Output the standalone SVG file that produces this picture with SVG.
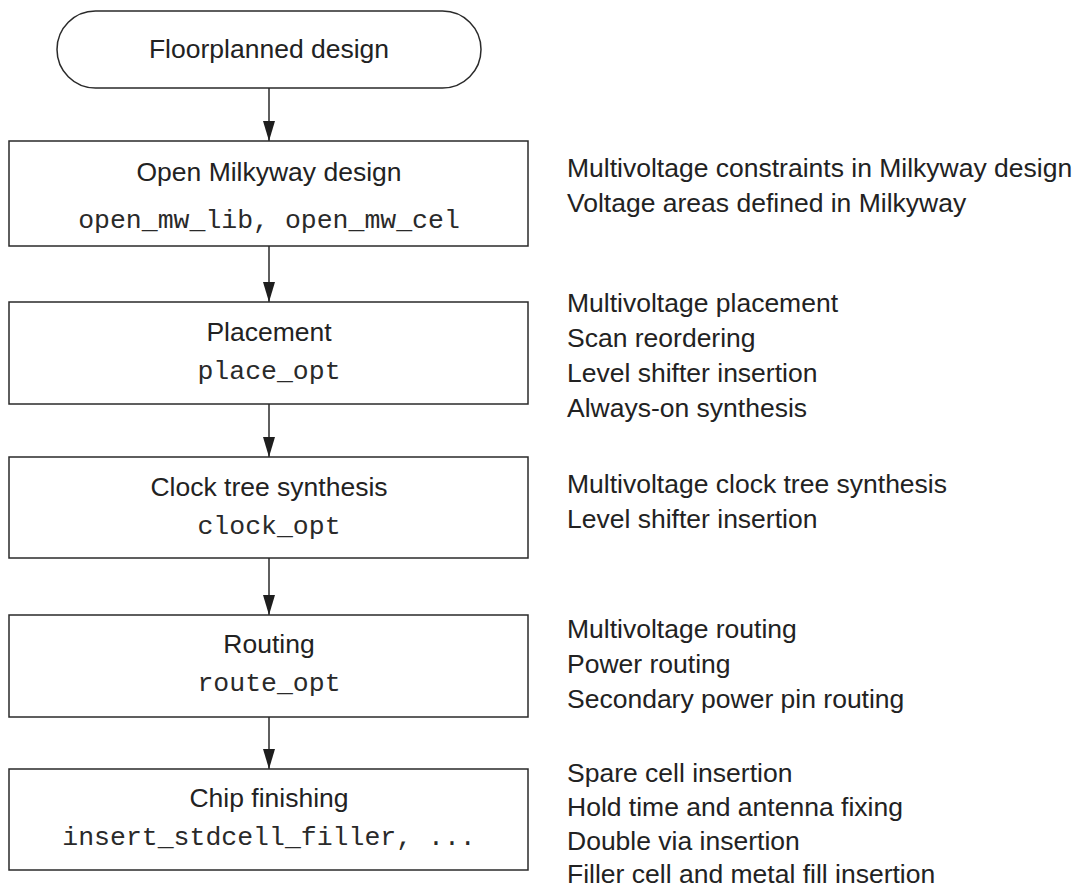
<svg xmlns="http://www.w3.org/2000/svg" width="1079" height="888" viewBox="0 0 1079 888">
<style>
.shape{fill:#fff;stroke:#2a2a2a;stroke-width:1.5}
.t{font-family:"Liberation Sans",Arial,Helvetica,sans-serif;font-size:26.5px;fill:#222;text-anchor:middle}
.m{font-family:"Liberation Mono","Courier New",monospace;font-size:26.5px;fill:#2a2a2a;text-anchor:middle}
.r{font-family:"Liberation Sans",Arial,Helvetica,sans-serif;font-size:26.5px;fill:#222}
.c{stroke:#2a2a2a;stroke-width:1.5;fill:none;marker-end:url(#ah)}
</style>
<defs>
<marker id="ah" markerUnits="userSpaceOnUse" markerWidth="20" markerHeight="12" refX="20" refY="6" orient="auto" viewBox="0 0 20 12">
<path d="M0,0 L20,6 L0,12 Z" fill="#1e1e1e"/>
</marker>
</defs>
<rect width="1079" height="888" fill="#fff"/>
<g id="connectors">
<line class="c" x1="269" y1="88" x2="269" y2="141"/>
<line class="c" x1="269" y1="246" x2="269" y2="302"/>
<line class="c" x1="269" y1="404" x2="269" y2="457"/>
<line class="c" x1="269" y1="558" x2="269" y2="615"/>
<line class="c" x1="269" y1="717" x2="269" y2="769"/>
</g>
<g id="start">
<rect class="shape" x="57" y="11" width="424" height="77" rx="38.5" ry="38.5"/>
<text class="t" x="269" y="58">Floorplanned design</text>
</g>
<g id="open">
<rect class="shape" x="9" y="141" width="519" height="105"/>
<text class="t" x="269" y="181">Open Milkyway design</text>
<text class="m" x="269" y="228">open_mw_lib, open_mw_cel</text>
</g>
<g id="placement">
<rect class="shape" x="9" y="302" width="519" height="102"/>
<text class="t" x="269" y="341">Placement</text>
<text class="m" x="269" y="379">place_opt</text>
</g>
<g id="cts">
<rect class="shape" x="9" y="457" width="519" height="101"/>
<text class="t" x="269" y="496">Clock tree synthesis</text>
<text class="m" x="269" y="534">clock_opt</text>
</g>
<g id="routing">
<rect class="shape" x="9" y="615" width="519" height="102"/>
<text class="t" x="269" y="653">Routing</text>
<text class="m" x="269" y="691">route_opt</text>
</g>
<g id="finishing">
<rect class="shape" x="9" y="769" width="519" height="101"/>
<text class="t" x="269" y="807">Chip finishing</text>
<text class="m" x="269" y="845">insert_stdcell_filler, ...</text>
</g>
<g id="notes">
<text class="r" x="567" y="177">Multivoltage constraints in Milkyway design</text>
<text class="r" x="567" y="212">Voltage areas defined in Milkyway</text>
<text class="r" x="567" y="312">Multivoltage placement</text>
<text class="r" x="567" y="347">Scan reordering</text>
<text class="r" x="567" y="382">Level shifter insertion</text>
<text class="r" x="567" y="417">Always-on synthesis</text>
<text class="r" x="567" y="493">Multivoltage clock tree synthesis</text>
<text class="r" x="567" y="528">Level shifter insertion</text>
<text class="r" x="567" y="638">Multivoltage routing</text>
<text class="r" x="567" y="673">Power routing</text>
<text class="r" x="567" y="708">Secondary power pin routing</text>
<text class="r" x="567" y="782">Spare cell insertion</text>
<text class="r" x="567" y="816">Hold time and antenna fixing</text>
<text class="r" x="567" y="850">Double via insertion</text>
<text class="r" x="567" y="883">Filler cell and metal fill insertion</text>
</g>
</svg>
